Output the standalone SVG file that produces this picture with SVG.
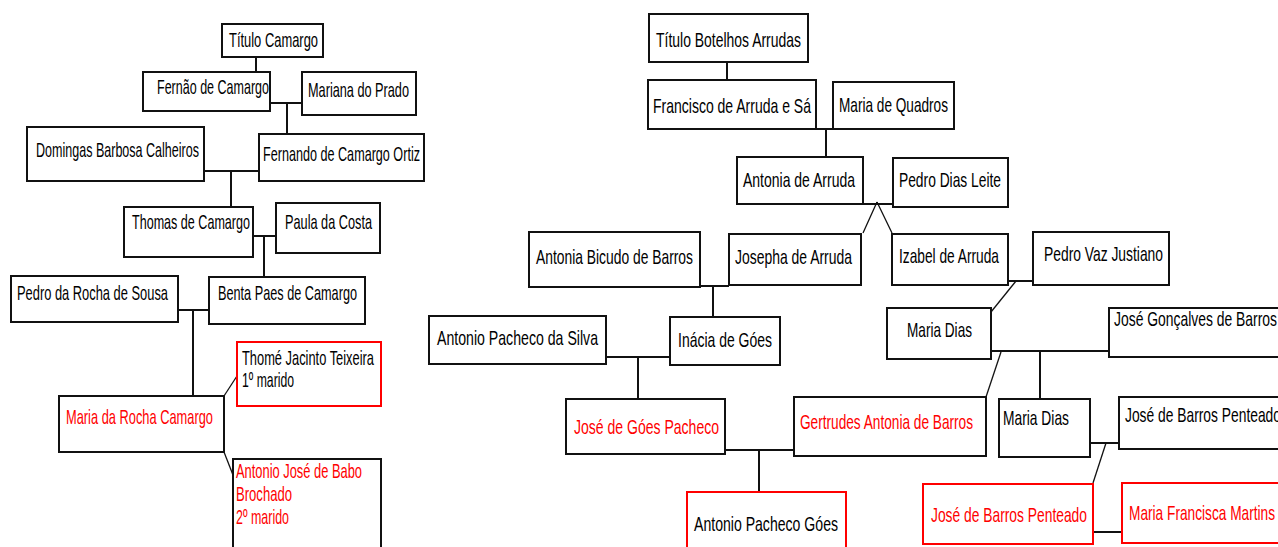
<svg xmlns="http://www.w3.org/2000/svg" width="1278" height="547" viewBox="0 0 1278 547">
<style>
rect{fill:#fff;stroke:#111;stroke-width:2}
rect.r{stroke:#ff0000}
text{font-family:"Liberation Sans",Arial,sans-serif;font-size:21px;fill:#000}
text.r{fill:#ff0000}
.c path{fill:none;stroke:#111;stroke-width:2}
.c path.d{stroke-width:1.3}
</style>
<rect x="0" y="0" width="1278" height="547" style="fill:#fff;stroke:none"/>
<g class="c" id="connectors">
<path d="M256,57V72"/>
<path d="M270,103H302M287,103V134"/>
<path d="M204,171H259M231,171V207"/>
<path d="M253,236H276M264,236V277"/>
<path d="M178,310H209M193,310V396"/>
<path class="d" d="M224,396L237,376"/>
<path class="d" d="M224,452L233,475"/>
<path d="M727,62V80"/>
<path d="M816,129H833M826,129V157"/>
<path d="M863,204H893"/>
<path class="d" d="M877,202L863,233M877,202L892,233"/>
<path d="M700,286H729M713,286V317"/>
<path d="M606,357H670M638,357V399"/>
<path d="M725,450H794M759,450V492"/>
<path d="M1008,281H1033"/>
<path class="d" d="M1016,281L991,312"/>
<path d="M991,351H1109M1040,351V399"/>
<path class="d" d="M1001,352L986,397"/>
<path d="M1090,443H1119"/>
<path class="d" d="M1106,443L1093,483"/>
<path d="M1093,532H1122"/>
</g>
<g id="n-titulo-camargo"><rect x="222" y="24" width="101" height="33"/><text x="229" y="47" textLength="89" lengthAdjust="spacingAndGlyphs">Título Camargo</text></g>
<g id="n-fernao"><rect x="143" y="72" width="127" height="39"/><text x="157" y="94" textLength="112" lengthAdjust="spacingAndGlyphs">Fernão de Camargo</text></g>
<g id="n-mariana"><rect x="302" y="72" width="114" height="43"/><text x="308" y="97" textLength="101" lengthAdjust="spacingAndGlyphs">Mariana do Prado</text></g>
<g id="n-domingas"><rect x="27" y="127" width="177" height="54"/><text x="36" y="157" textLength="163" lengthAdjust="spacingAndGlyphs">Domingas Barbosa Calheiros</text></g>
<g id="n-fernando"><rect x="259" y="134" width="165" height="47"/><text x="263" y="161" textLength="157" lengthAdjust="spacingAndGlyphs">Fernando de Camargo Ortiz</text></g>
<g id="n-thomas"><rect x="124" y="207" width="129" height="50"/><text x="132" y="229" textLength="118" lengthAdjust="spacingAndGlyphs">Thomas de Camargo</text></g>
<g id="n-paula"><rect x="276" y="203" width="104" height="50"/><text x="285" y="229" textLength="87" lengthAdjust="spacingAndGlyphs">Paula da Costa</text></g>
<g id="n-pedro-rocha"><rect x="11" y="276" width="167" height="46"/><text x="17" y="300" textLength="151" lengthAdjust="spacingAndGlyphs">Pedro da Rocha de Sousa</text></g>
<g id="n-benta"><rect x="209" y="277" width="156" height="47"/><text x="218" y="300" textLength="139" lengthAdjust="spacingAndGlyphs">Benta Paes de Camargo</text></g>
<g id="n-thome"><rect class="r" x="237" y="342" width="144" height="64"/><text x="242" y="365" textLength="132" lengthAdjust="spacingAndGlyphs">Thomé Jacinto Teixeira</text><text x="242" y="387" textLength="52" lengthAdjust="spacingAndGlyphs">1º marido</text></g>
<g id="n-maria-rocha"><rect x="59" y="396" width="165" height="56"/><text class="r" x="66" y="424" textLength="147" lengthAdjust="spacingAndGlyphs">Maria da Rocha Camargo</text></g>
<g id="n-antonio-babo"><rect x="233" y="459" width="148" height="100"/><text class="r" x="236" y="478" textLength="126" lengthAdjust="spacingAndGlyphs">Antonio José de Babo</text><text class="r" x="236" y="501" textLength="56" lengthAdjust="spacingAndGlyphs">Brochado</text><text class="r" x="236" y="524" textLength="53" lengthAdjust="spacingAndGlyphs">2º marido</text></g>
<g id="n-titulo-botelhos"><rect x="649" y="14" width="159" height="48"/><text x="656" y="47" textLength="145" lengthAdjust="spacingAndGlyphs">Título Botelhos Arrudas</text></g>
<g id="n-francisco"><rect x="648" y="80" width="168" height="49"/><text x="653" y="113" textLength="158" lengthAdjust="spacingAndGlyphs">Francisco de Arruda e Sá</text></g>
<g id="n-maria-quadros"><rect x="833" y="82" width="121" height="47"/><text x="839" y="112" textLength="109" lengthAdjust="spacingAndGlyphs">Maria de Quadros</text></g>
<g id="n-antonia-arruda"><rect x="737" y="157" width="126" height="47"/><text x="743" y="187" textLength="112" lengthAdjust="spacingAndGlyphs">Antonia de Arruda</text></g>
<g id="n-pedro-dias"><rect x="893" y="158" width="115" height="49"/><text x="899" y="187" textLength="102" lengthAdjust="spacingAndGlyphs">Pedro Dias Leite</text></g>
<g id="n-antonia-bicudo"><rect x="529" y="232" width="171" height="55"/><text x="536" y="264" textLength="157" lengthAdjust="spacingAndGlyphs">Antonia Bicudo de Barros</text></g>
<g id="n-josepha"><rect x="729" y="234" width="132" height="51"/><text x="735" y="264" textLength="117" lengthAdjust="spacingAndGlyphs">Josepha de Arruda</text></g>
<g id="n-izabel"><rect x="892" y="234" width="116" height="51"/><text x="899" y="263" textLength="100" lengthAdjust="spacingAndGlyphs">Izabel de Arruda</text></g>
<g id="n-antonio-silva"><rect x="429" y="316" width="177" height="48"/><text x="437" y="345" textLength="161" lengthAdjust="spacingAndGlyphs">Antonio Pacheco da Silva</text></g>
<g id="n-inacia"><rect x="670" y="317" width="110" height="48"/><text x="678" y="347" textLength="94" lengthAdjust="spacingAndGlyphs">Inácia de Góes</text></g>
<g id="n-jose-goes"><rect x="566" y="399" width="159" height="55"/><text class="r" x="574" y="434" textLength="145" lengthAdjust="spacingAndGlyphs">José de Góes Pacheco</text></g>
<g id="n-gertrudes"><rect x="794" y="397" width="192" height="59"/><text class="r" x="800" y="429" textLength="173" lengthAdjust="spacingAndGlyphs">Gertrudes Antonia de Barros</text></g>
<g id="n-antonio-goes"><rect class="r" x="687" y="492" width="159" height="70"/><text x="694" y="531" textLength="144" lengthAdjust="spacingAndGlyphs">Antonio Pacheco Góes</text></g>
<g id="n-pedro-vaz"><rect x="1033" y="232" width="136" height="53"/><text x="1044" y="261" textLength="119" lengthAdjust="spacingAndGlyphs">Pedro Vaz Justiano</text></g>
<g id="n-maria-dias-1"><rect x="887" y="308" width="104" height="51"/><text x="907" y="337" textLength="65" lengthAdjust="spacingAndGlyphs">Maria Dias</text></g>
<g id="n-jose-goncalves"><rect x="1109" y="308" width="180" height="49"/><text x="1114" y="326" textLength="163" lengthAdjust="spacingAndGlyphs">José Gonçalves de Barros</text></g>
<g id="n-maria-dias-2"><rect x="999" y="399" width="91" height="58"/><text x="1003" y="425" textLength="66" lengthAdjust="spacingAndGlyphs">Maria Dias</text></g>
<g id="n-jose-penteado-1"><rect x="1119" y="397" width="180" height="52"/><text x="1125" y="422" textLength="156" lengthAdjust="spacingAndGlyphs">José de Barros Penteado</text></g>
<g id="n-jose-penteado-2"><rect class="r" x="923" y="484" width="170" height="60"/><text class="r" x="931" y="522" textLength="156" lengthAdjust="spacingAndGlyphs">José de Barros Penteado</text></g>
<g id="n-maria-francisca"><rect class="r" x="1122" y="483" width="170" height="60"/><text class="r" x="1129" y="520" textLength="146" lengthAdjust="spacingAndGlyphs">Maria Francisca Martins</text></g>
</svg>
